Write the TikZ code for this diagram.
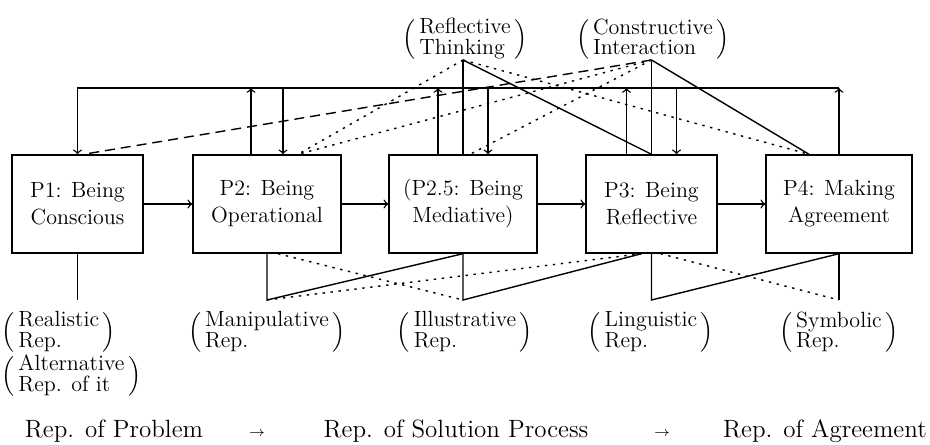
\documentclass[tikz,border=0pt]{standalone}
\usepackage{amsmath,amssymb}
\usepackage{tikz}

\renewcommand{\arraystretch}{0.82}
\newcommand{\twoline}[2]{$\left(\,\begin{tabular}{@{}l@{}}#1\\#2\end{tabular}\,\right)$}

\begin{document}
\begin{tikzpicture}[x=0.5pt, y=-0.5pt, line width=0.7pt,
    stagebox/.style={draw, minimum height=49pt, inner sep=0pt, align=center, font=\fontsize{11}{13.5}\selectfont},
    replabel/.style={inner sep=0pt, font=\fontsize{11}{10.5}\selectfont},
    bottomtext/.style={inner sep=0pt, anchor=base, font=\fontsize{12.5}{15}\selectfont},
    dotline/.style={dash pattern=on 1.2pt off 2.8pt},
    dashline/.style={dash pattern=on 5pt off 3pt}]
    \useasboundingbox (0,0) rectangle (930,444);
    \node[stagebox, minimum width=65.5pt] (p1) at (77.5, 204) {P1: Being\\Conscious};
    \node[stagebox, minimum width=74pt] (p2) at (267, 204) {P2: Being\\Operational};
    \node[stagebox, minimum width=74pt] (p25) at (463, 204) {(P2.5: Being\\Mediative)};
    \node[stagebox, minimum width=65.5pt] (p3) at (651.5, 204) {P3: Being\\Reflective};
    \node[stagebox, minimum width=73pt] (p4) at (839, 204) {P4: Making\\Agreement};
    \node[replabel] (thinking) at (465, 39) {\twoline{Reflective}{Thinking}};
    \node[replabel] (interaction) at (653, 39) {\twoline{Constructive}{Interaction}};
    \node[replabel, anchor=west] (realistic) at (1, 332) {\twoline{Realistic}{Rep.}};
    \node[replabel, anchor=west] (alternative) at (1, 376) {\twoline{Alternative}{Rep. of it}};
    \node[replabel] (manipulative) at (267, 332) {\twoline{Manipulative}{Rep.}};
    \node[replabel] (illustrative) at (465, 332) {\twoline{Illustrative}{Rep.}};
    \node[replabel] (linguistic) at (651, 332) {\twoline{Linguistic}{Rep.}};
    \node[replabel] (symbolic) at (839, 332) {\twoline{Symbolic}{Rep.}};
    \node[bottomtext] (problem) at (114, 437) {Rep. of Problem};
    \node[bottomtext, font=\fontsize{7}{8}\selectfont] (arrowa) at (257, 436) {$\rightarrow$};
    \node[bottomtext] (solution) at (456, 437) {Rep. of Solution Process};
    \node[bottomtext, font=\fontsize{7}{8}\selectfont] (arrowb) at (662, 436) {$\rightarrow$};
    \node[bottomtext] (agreement) at (825, 437) {Rep. of Agreement};
    \coordinate (top) at (0, 88);
    \coordinate (low) at (0, 300);
    \coordinate (rt) at (463, 60);
    \coordinate (ci) at (651.5, 60);
    \coordinate (realv) at (p1.south |- low);
    \coordinate (maniv) at (p2.south |- low);
    \coordinate (illuv) at (p25.south |- low);
    \coordinate (lingv) at (p3.south |- low);
    \coordinate (symbv) at (p4.south |- low);
    \draw [->] (p1) to (p2);
    \draw [->] (p2) to (p25);
    \draw [->] (p25) to (p3);
    \draw [->] (p3) to (p4);
    \draw [->] (p4.north) -- (p4.north |- top);
    \draw [->] (p4.north |- top) -- (p1.north |- top) -- (p1.north);
    \foreach \b/\s in {p2/8pt, p25/12.5pt, p3/12.5pt} {
      \draw [->] ([xshift=-\s]\b.north) -- ([xshift=-\s]\b.north |- top);
      \draw [<-] ([xshift=\s]\b.north) -- ([xshift=\s]\b.north |- top);
    }
    \draw (rt) -- (p25.north);
    \draw (rt) -- (p3.north);
    \draw (ci) -- (p3.north);
    \draw (ci) -- ([xshift=-15pt]p4.north);
    \draw [dotline] (rt) -- ([xshift=15.5pt]p2.north);
    \draw [dotline] (rt) -- ([xshift=-15pt]p4.north);
    \draw [dotline] (ci) -- ([xshift=15.5pt]p2.north);
    \draw [dotline] (ci) -- ([xshift=3.5pt]p25.north);
    \draw [dashline] (ci) -- ([xshift=3pt]p1.north);
    \draw (p1.south) -- (realv);
    \draw (p2.south) -- (maniv) -- (p25.south);
    \draw (p25.south) -- (illuv) -- ([xshift=-5pt]p3.south);
    \draw (p3.south) -- (lingv) -- (p4.south);
    \draw (p4.south) -- (symbv);
    \draw [dotline] ([xshift=5.5pt]p2.south) -- (illuv);
    \draw [dotline] (maniv) -- ([xshift=-5pt]p3.south);
    \draw [dotline] ([xshift=4.5pt]p3.south) -- (symbv);
  \end{tikzpicture}
\end{document}
